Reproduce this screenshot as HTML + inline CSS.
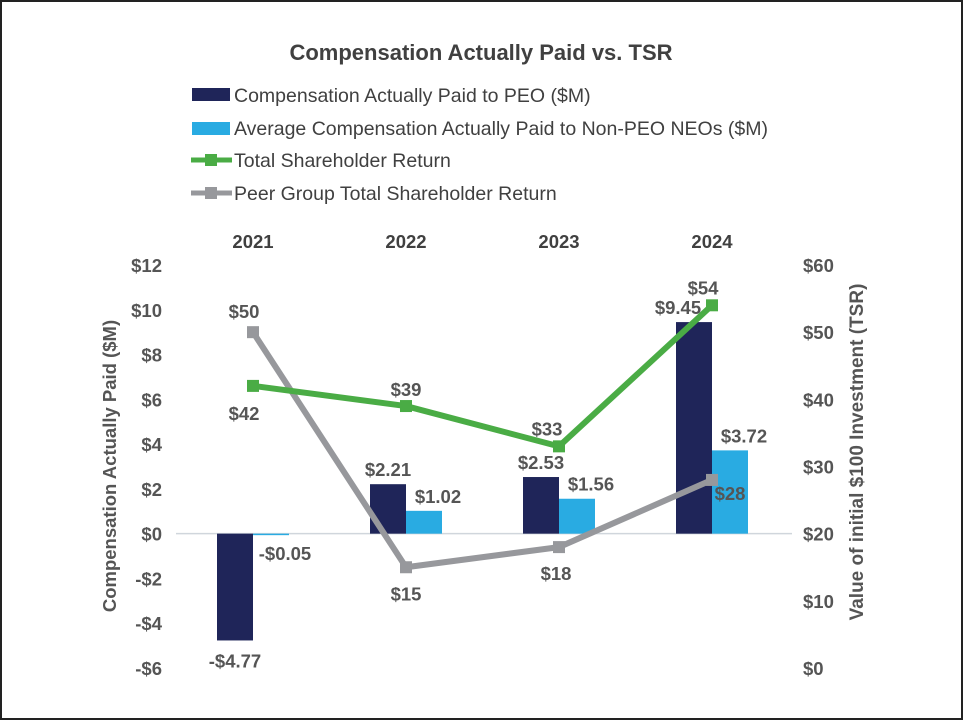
<!DOCTYPE html>
<html><head><meta charset="utf-8"><style>
body{margin:0;background:#fff}
svg{display:block;font-family:"Liberation Sans",Arial,sans-serif}
</style></head><body>
<svg width="963" height="720" id="c">
<rect x="1" y="1" width="961" height="718" fill="#fff" stroke="#222" stroke-width="2"/>
<text x="481" y="60" text-anchor="middle" font-size="22" font-weight="bold" fill="#404040">Compensation Actually Paid vs. TSR</text>
<g font-size="19.5" fill="#404040">
<rect x="192" y="88" width="38" height="13" fill="#1f2559"/>
<text x="234" y="102">Compensation Actually Paid to PEO ($M)</text>
<rect x="192" y="122" width="38" height="13" fill="#29abe2"/>
<text x="234" y="135">Average Compensation Actually Paid to Non-PEO NEOs ($M)</text>
<line x1="191" y1="160" x2="232" y2="160" stroke="#4aac45" stroke-width="5"/>
<rect x="205" y="154" width="12" height="12" fill="#4aac45"/>
<text x="234" y="167">Total Shareholder Return</text>
<line x1="191" y1="193" x2="232" y2="193" stroke="#97989c" stroke-width="5"/>
<rect x="205" y="187" width="12" height="12" fill="#97989c"/>
<text x="234" y="200">Peer Group Total Shareholder Return</text>
</g>
<text transform="translate(116,466) rotate(-90)" text-anchor="middle" font-size="18.5" font-weight="bold" fill="#555">Compensation Actually Paid ($M)</text>
<text transform="translate(863,452) rotate(-90)" text-anchor="middle" font-size="19" font-weight="bold" fill="#555">Value of initial $100 Investment (TSR)</text>
<g id="plot"></g>
</svg>
<script>
const years=["2021","2022","2023","2024"];
const peo=[-4.77,2.21,2.53,9.45];
const neo=[-0.05,1.02,1.56,3.72];
const tsr=[42,39,33,54];
const peer=[50,15,18,28];
const leftTicks=[12,10,8,6,4,2,0,-2,-4,-6];
const rightTicks=[60,50,40,30,20,10,0];

const NS="http://www.w3.org/2000/svg";
const g=document.getElementById('plot');
const top_=265,bot=668;
const yL=v=>top_+(12-v)/18*(bot-top_);
const yR=v=>bot-v/60*(bot-top_);
const xC=i=>253+i*153;
const bw=36;
const FS=18.5;
function el(t,a,txt){const e=document.createElementNS(NS,t);for(const k in a)e.setAttribute(k,a[k]);if(txt!==undefined)e.textContent=txt;g.appendChild(e);return e;}
function fmt(v){return (v<0?"-$":"$")+Math.abs(v).toFixed(2);}

leftTicks.forEach(t=>{const e=el('text',{x:162,y:yL(t)+7,'text-anchor':'end','font-size':FS,'font-weight':'bold',fill:'#555'},(t<0?"-$":"$")+Math.abs(t));

});
rightTicks.forEach(t=>{const e=el('text',{x:803,y:yR(t)+7,'font-size':FS,'font-weight':'bold',fill:'#555'},"$"+t);

});
years.forEach((y,i)=>{const e=el('text',{x:xC(i),y:248,'text-anchor':'middle','font-size':FS,'font-weight':'bold',fill:'#404040'},y);

});
const z=el('line',{x1:176,x2:792,y1:yL(0),y2:yL(0),stroke:'#d0d6dc','stroke-width':1.5});



years.forEach((y,i)=>{
 const x=xC(i);
 const b1=el('rect',{x:x-bw,y:Math.min(yL(0),yL(peo[i])),width:bw,height:Math.abs(yL(peo[i])-yL(0)),fill:'#1f2559'});
 
 
 const b2=el('rect',{x:x,y:Math.min(yL(0),yL(neo[i])),width:bw,height:Math.max(1.5,Math.abs(yL(neo[i])-yL(0))),fill:'#29abe2'});
 
 
 const l1=el('text',{x:x-bw/2-(peo[i]>5?16:0),y:peo[i]<0?yL(peo[i])+27:yL(peo[i])-8,'text-anchor':'middle','font-size':FS,'font-weight':'bold',fill:'#555'},fmt(peo[i]));
 
 
 const l2=el('text',{x:x+bw/2+14,y:neo[i]<0?yL(neo[i])+25:yL(neo[i])-8,'text-anchor':'middle','font-size':FS,'font-weight':'bold',fill:'#555'},fmt(neo[i]));
 
 
});
function series(vals,color,name,offs){
 const p=el('polyline',{points:vals.map((v,i)=>xC(i)+","+yR(v)).join(" "),fill:'none',stroke:color,'stroke-width':6,'stroke-linejoin':'round'});
 
 
 vals.forEach((v,i)=>{
  const m=el('rect',{x:xC(i)-6,y:yR(v)-6,width:12,height:12,fill:color});
  
  
  const t=el('text',{x:xC(i)+offs[i][0],y:yR(v)+offs[i][1],'text-anchor':'middle','font-size':FS,'font-weight':'bold',fill:'#555'},"$"+v);
  
  
 });
}
series(peer,'#97989c','peer-tsr',[[-9,-14],[0,33],[-3,33],[18,20]]);
series(tsr,'#4aac45','tsr',[[-9,34],[0,-10],[-12,-11],[-9,-11]]);
</script>
</body></html>
